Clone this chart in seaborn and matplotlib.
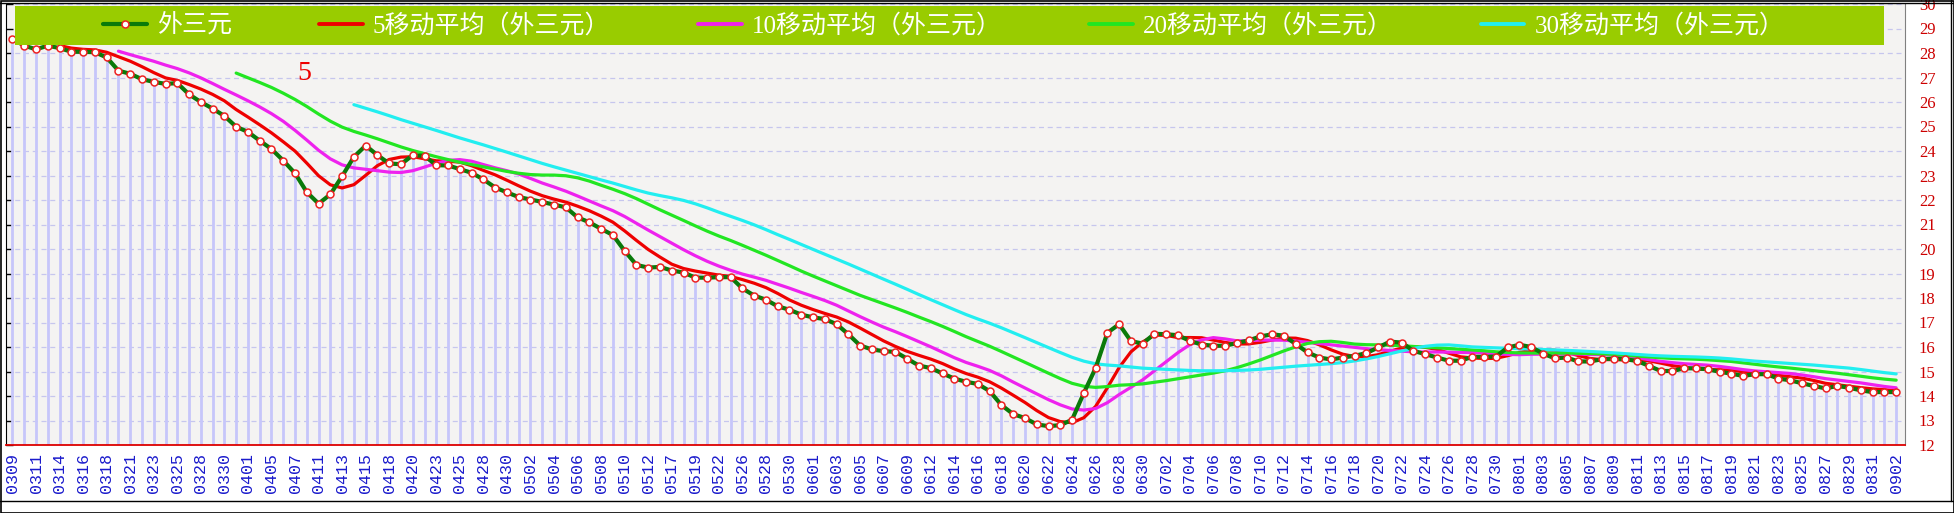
import numpy as np
import pandas as pd
import matplotlib
matplotlib.use("Agg")
import matplotlib.pyplot as plt
from matplotlib.lines import Line2D
from matplotlib.patches import Rectangle
import seaborn as sns

# 外三元, one value per draw (161 draws, 0309 .. 0902)
wai_san_yuan = [
    28.57, 28.30, 28.15, 28.30, 28.20, 28.05, 28.05, 28.03, 27.82, 27.28,
    27.15, 26.93, 26.82, 26.74, 26.77, 26.31, 26.00, 25.73, 25.43, 24.99,
    24.78, 24.42, 24.08, 23.61, 23.09, 22.32, 21.85, 22.23, 22.97, 23.76,
    24.22, 23.83, 23.49, 23.46, 23.83, 23.80, 23.42, 23.41, 23.26, 23.11,
    22.84, 22.51, 22.31, 22.12, 22.02, 21.92, 21.81, 21.70, 21.29, 21.09,
    20.82, 20.57, 19.92, 19.35, 19.24, 19.27, 19.12, 19.04, 18.83, 18.83,
    18.85, 18.85, 18.39, 18.10, 17.93, 17.66, 17.52, 17.32, 17.21, 17.14,
    16.93, 16.52, 16.06, 15.90, 15.83, 15.80, 15.52, 15.24, 15.14, 14.92,
    14.71, 14.58, 14.49, 14.20, 13.63, 13.26, 13.10, 12.84, 12.77, 12.81,
    13.03, 14.12, 15.14, 16.58, 16.93, 16.24, 16.14, 16.54, 16.52, 16.48,
    16.25, 16.10, 16.05, 16.05, 16.16, 16.27, 16.43, 16.52, 16.46, 16.12,
    15.78, 15.57, 15.49, 15.57, 15.64, 15.75, 15.98, 16.22, 16.18, 15.84,
    15.71, 15.57, 15.44, 15.44, 15.60, 15.60, 15.61, 15.98, 16.09, 16.00,
    15.73, 15.54, 15.57, 15.41, 15.41, 15.50, 15.53, 15.50, 15.43, 15.23,
    15.02, 15.02, 15.13, 15.13, 15.09, 14.99, 14.91, 14.82, 14.89, 14.89,
    14.71, 14.64, 14.52, 14.41, 14.31, 14.41, 14.34, 14.23, 14.16, 14.16,
    14.16,
]

# labels shown under every second draw
date_labels = [
    '0309', '0311', '0314', '0316', '0318', '0321', '0323', '0325', '0328', '0330',
    '0401', '0405', '0407', '0411', '0413', '0415', '0418', '0420', '0423', '0425',
    '0428', '0430', '0502', '0504', '0506', '0508', '0510', '0512', '0517', '0519',
    '0522', '0526', '0528', '0530', '0601', '0603', '0605', '0607', '0609', '0612',
    '0614', '0616', '0618', '0620', '0622', '0624', '0626', '0628', '0630', '0702',
    '0704', '0706', '0708', '0710', '0712', '0714', '0716', '0718', '0720', '0722',
    '0724', '0726', '0728', '0730', '0801', '0803', '0805', '0807', '0809', '0811',
    '0813', '0815', '0817', '0819', '0821', '0823', '0825', '0827', '0829', '0831',
    '0902',
]

series_name = '外三元'
ma_windows = [5, 10, 20, 30]
ma_colors = ['#ee0000', '#ee22ee', '#22e622', '#22eef0']
y_ticks = list(range(12, 31))
marker_note = '5'

W, H = 1954, 513

sns.set_style('white')
plt.rcParams['font.family'] = ['Liberation Serif', 'Noto Sans CJK SC', 'DejaVu Sans']

df = pd.DataFrame({'idx': np.arange(len(wai_san_yuan)), 'value': wai_san_yuan})
for w in ma_windows:
    df[f'ma{w}'] = df['value'].rolling(w).mean()

fig = plt.figure(figsize=(W / 100, H / 100), dpi=100)
ax = fig.add_axes([6 / W, 68 / H, (1905 - 6) / W, (445 - 4) / H])
ax.set_facecolor('#f4f3f2')

# grid + drop lines
ax.set_axisbelow(True)
ax.yaxis.grid(True, ls=(0, (4, 3)), color='#c6c6ee', lw=0.9)
ax.vlines(df['idx'], y_ticks[0], df['value'], color='#c6c6fa', lw=2.0, zorder=1)

for w, c in zip(ma_windows, ma_colors):
    sns.lineplot(data=df, x='idx', y=f'ma{w}', ax=ax, color=c, lw=2.3,
                 zorder=3, legend=False)

sns.lineplot(data=df, x='idx', y='value', ax=ax, color='#0a7a0a', lw=3.0,
             marker='o', ms=5, mfc='white', mec='#ee2222', mew=1.1,
             zorder=5, legend=False)

ax.set_xlim(-0.55, 160.75)
ax.set_ylim(y_ticks[0], y_ticks[-1])
ax.set_xlabel('')
ax.set_ylabel('')

ax.set_xticks(df['idx'][::2])
ax.set_xticklabels(date_labels, rotation=90, fontfamily='Liberation Mono',
                   fontsize=12, color='#1a1acc')
ax.tick_params(axis='x', direction='in', length=4, width=1, color='#dd0000', pad=6)

ax.set_yticks(y_ticks)
ax.set_yticklabels([str(v) for v in y_ticks], fontfamily='Liberation Serif',
                   fontsize=12, color='#cc0000')
ax.tick_params(axis='y', left=True, right=False, labelleft=False, labelright=True,
               direction='in', length=5, width=1, color='black', pad=10)

ax.spines['top'].set_visible(False)
ax.spines['bottom'].set_color('#dd0000')
ax.spines['bottom'].set_linewidth(1.3)
ax.spines['left'].set_color('black')
ax.spines['right'].set_color('#808080')

ax.text(24.8, 27.18, marker_note, color='#ee0000', fontsize=20,
        ha='center', va='center', fontfamily='Liberation Serif', zorder=6)

# legend bar
ax.add_patch(Rectangle((15 / W, 1 - 45 / H), 1869 / W, 39 / H, transform=fig.transFigure,
                       facecolor='#99cc00', edgecolor='none', zorder=10, clip_on=False))
handles = [Line2D([], [], color='#0a7a0a', lw=3.0, marker='o', ms=5, mfc='white',
                  mec='#ee2222', mew=1.1)]
labels = [series_name]
for w, c in zip(ma_windows, ma_colors):
    handles.append(Line2D([], [], color=c, lw=2.8))
    labels.append(f'{w}移动平均（{series_name}）')
leg = ax.legend(handles, labels, ncol=5, loc='center left',
                bbox_to_anchor=(103 / W, 1 - 25.5 / H), bbox_transform=fig.transFigure,
                frameon=False, fontsize=18, handlelength=1.75, handletextpad=0.4,
                columnspacing=3.5, borderpad=0, borderaxespad=0, labelcolor='white')
leg.set_zorder(11)

# outer frame
fig.add_artist(Rectangle((0.5 / W, 0.5 / H), 1 - 1 / W, 1 - 1 / H, transform=fig.transFigure,
                         fill=False, edgecolor='black', lw=1.2))
fig.add_artist(Line2D([0, 1], [12 / H, 12 / H], transform=fig.transFigure, color='black', lw=1.0))
fig.add_artist(Line2D([0, 1], [1 - 3 / H, 1 - 3 / H], transform=fig.transFigure, color='black', lw=1.0))
fig.add_artist(Line2D([1 - 3 / W, 1 - 3 / W], [12 / H, 1], transform=fig.transFigure, color='black', lw=1.0))

fig.savefig('out.png', dpi=100)
